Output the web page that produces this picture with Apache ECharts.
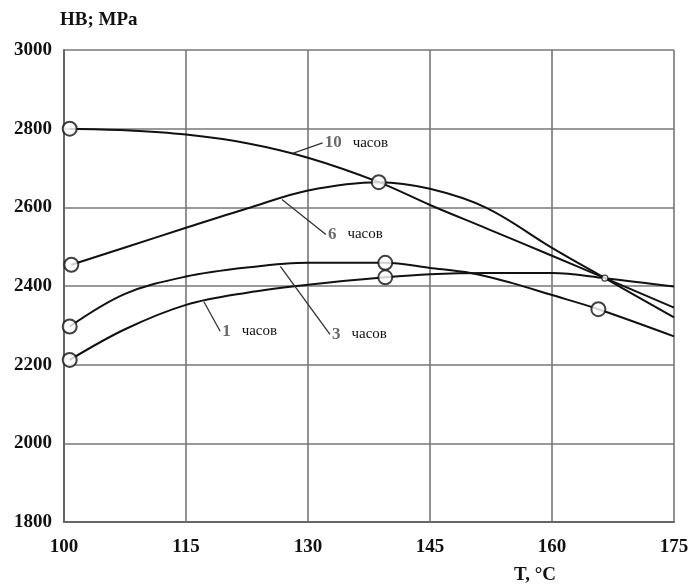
<!DOCTYPE html>
<html>
<head>
<meta charset="utf-8">
<script src="https://cdn.jsdelivr.net/npm/echarts@6/dist/echarts.min.js"></script>
<style>html,body{margin:0;padding:0;background:#fff}#c{width:695px;height:587px}</style>
</head>
<body>
<div id="c"></div>
<script>
// X ticks and Y ticks
var xTicks = [100, 115, 130, 145, 160, 175];
var yTicks = [1800, 2000, 2200, 2400, 2600, 2800, 3000];

// Curves [T, HB]
var curve10h = [[100.7,2800],[107.5,2796],[115,2785],[122.5,2763],[130,2726],[138.7,2664],[145,2606],[152,2546],[160,2477],[166.5,2420],[175,2345]];
var curve6h  = [[100.9,2454],[107.5,2498],[115,2548],[122.5,2597],[130,2643],[138.7,2664],[145,2647],[152,2598],[160,2497],[166.5,2420],[175,2320]];
var curve3h  = [[100.7,2297],[107.5,2380],[115,2424],[122.5,2447],[130,2459],[139.5,2459],[145,2446],[150,2433],[155,2408],[160,2377],[165.7,2341],[175,2272]];
var curve1h  = [[100.7,2212],[107.5,2290],[115,2352],[122.5,2383],[130,2403],[139.5,2422],[145,2430],[152,2433],[160,2433],[166.5,2420],[175,2399]];

// Open circle markers
var markers = [[100.7,2800],[100.9,2454],[100.7,2297],[100.7,2212],[138.7,2664],[139.5,2459],[139.5,2422],[165.7,2341]];
var crossMarker = [[166.5,2420]];

// Labels: number, leader start, leader end
var labelNums = ['10', '6', '1', '3'];
var leaderStart = [[128.2,2738],[126.8,2620],[117.2,2360],[126.6,2450]];
var leaderEnd   = [[131.8,2764],[132.2,2531],[119.2,2285],[132.7,2277]];
var unitWord = 'часов';

var serif = 'Liberation Serif';
var lineStyle = {color:'#111', width:2};

function annot(i){
  return {
    markLine: {
      silent: true, symbol: 'none', animation: false,
      lineStyle: {color:'#333', width:1.3, type:'solid'},
      label: {show:false},
      data: [[{coord: leaderStart[i]}, {coord: leaderEnd[i]}]]
    },
    markPoint: {
      silent: true, symbol: 'circle', symbolSize: 0, animation: false,
      data: [{coord: leaderEnd[i]}],
      label: {
        show: true, position: 'right', distance: 2,
        formatter: '{n|' + labelNums[i] + '}{t|' + unitWord + '}',
        rich: {
          n: {fontFamily: serif, fontWeight:'bold', fontSize:17, color:'#6a6a6a', padding:[0,11,0,0]},
          t: {fontFamily: serif, fontSize:15, color:'#111'}
        }
      }
    }
  };
}

function lineSeries(data, i){
  var s = {type:'line', data:data, smooth:0.35, symbol:'none', lineStyle:lineStyle, z:3, animation:false};
  var a = annot(i);
  s.markLine = a.markLine; s.markPoint = a.markPoint;
  return s;
}

var chart = echarts.init(document.getElementById('c'), null, {renderer:'canvas'});
chart.setOption({
  backgroundColor:'#fff',
  animation:false,
  title:[
    {text:'HB; MPa', left:55, top:6, textStyle:{fontFamily:serif, fontWeight:'bold', fontSize:19, color:'#111'}},
    {text:'T, °C', left:509, top:561, textStyle:{fontFamily:serif, fontWeight:'bold', fontSize:19, color:'#111'}}
  ],
  grid:{left:64, right:21, top:50, bottom:65},
  xAxis:{
    type:'value', min:xTicks[0], max:xTicks[xTicks.length-1], interval:15,
    axisLine:{show:true, lineStyle:{color:'#666', width:2}},
    axisTick:{show:false},
    splitLine:{show:true, lineStyle:{color:'#777', width:1.6}},
    axisLabel:{fontFamily:serif, fontWeight:'bold', fontSize:19, color:'#111', margin:16, formatter:function(v){return String(v);}}
  },
  yAxis:{
    type:'value', min:yTicks[0], max:yTicks[yTicks.length-1], interval:200,
    axisLine:{show:true, lineStyle:{color:'#666', width:2}},
    axisTick:{show:false},
    splitLine:{show:true, lineStyle:{color:'#777', width:1.6}},
    axisLabel:{fontFamily:serif, fontWeight:'bold', fontSize:19, color:'#111', margin:12, formatter:function(v){return String(v);}}
  },
  series:[
    lineSeries(curve10h, 0),
    lineSeries(curve6h, 1),
    lineSeries(curve1h, 2),
    lineSeries(curve3h, 3),
    {type:'scatter', data:markers, symbol:'circle', symbolSize:14, z:5,
     itemStyle:{color:'#fff', borderColor:'#111', borderWidth:2}},
    {type:'scatter', data:crossMarker, symbol:'circle', symbolSize:6, z:5,
     itemStyle:{color:'#fff', borderColor:'#111', borderWidth:1.2}}
  ]
});
</script>
</body>
</html>
